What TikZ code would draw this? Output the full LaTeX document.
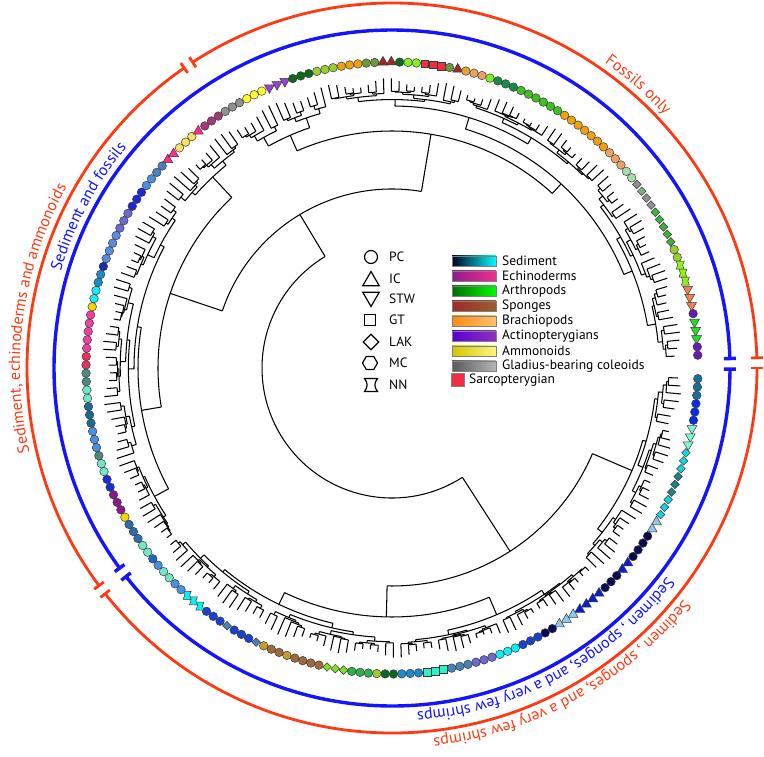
\documentclass[tikz,border=0pt]{standalone}
\usepackage{fontspec}
\setmainfont{PT Sans}
\usetikzlibrary{shapes.geometric,decorations.text}
\definecolor{redL}{HTML}{FF3A12}
\definecolor{blueL}{HTML}{1414FF}
\definecolor{mkline}{HTML}{3A3A3A}
\definecolor{dteal}{HTML}{1C6E96}
\definecolor{blueA}{HTML}{0B2BE8}
\definecolor{aquaT}{HTML}{7FF5D2}
\definecolor{cyanD}{HTML}{14D4DC}
\definecolor{tealD}{HTML}{1A8484}
\definecolor{ltblue}{HTML}{8CC8F0}
\definecolor{navy}{HTML}{0A0A50}
\definecolor{bluetri}{HTML}{0C20C8}
\definecolor{royal}{HTML}{1A40D0}
\definecolor{cyanC}{HTML}{10EEF8}
\definecolor{slate}{HTML}{6A6AD0}
\definecolor{steel}{HTML}{4A82B8}
\definecolor{aquasq}{HTML}{30F0C8}
\definecolor{cerul}{HTML}{1A8CC8}
\definecolor{dkgreen}{HTML}{0A6A1A}
\definecolor{yg}{HTML}{9ACD32}
\definecolor{greenM}{HTML}{2CB050}
\definecolor{limeD}{HTML}{7EE020}
\definecolor{brown}{HTML}{9C6A3C}
\definecolor{gold}{HTML}{C89A30}
\definecolor{cornfl}{HTML}{4A90E0}
\definecolor{paleaq}{HTML}{70E8C8}
\definecolor{blueTwo}{HTML}{1A6AC0}
\definecolor{steelTwo}{HTML}{2A70A8}
\definecolor{yellowA}{HTML}{F0D800}
\definecolor{purpleE}{HTML}{8A1A8A}
\definecolor{blueB}{HTML}{1A2AD8}
\definecolor{tealgray}{HTML}{4A8A80}
\definecolor{dsteel}{HTML}{1A6A90}
\definecolor{crimson}{HTML}{E8305A}
\definecolor{pinkA}{HTML}{F040A0}
\definecolor{dblue}{HTML}{1A2AB0}
\definecolor{cornflB}{HTML}{5A8AE0}
\definecolor{pinkT}{HTML}{FF2A8A}
\definecolor{yellowlt}{HTML}{F8E060}
\definecolor{magd}{HTML}{A03A78}
\definecolor{grayC}{HTML}{909090}
\definecolor{yellowB}{HTML}{FFFF30}
\definecolor{purpleT}{HTML}{9A40D0}
\definecolor{orangeA}{HTML}{F0A010}
\definecolor{oliveTwo}{HTML}{6A9A3A}
\definecolor{brownred}{HTML}{9A2A2A}
\definecolor{limeC}{HTML}{80F020}
\definecolor{redS}{HTML}{F03040}
\definecolor{orangeB}{HTML}{F0A030}
\definecolor{ltorange}{HTML}{F0A060}
\definecolor{tealgreen}{HTML}{1A8A4A}
\definecolor{greenTwo}{HTML}{40C020}
\definecolor{palegr}{HTML}{A8DCA8}
\definecolor{graygreen}{HTML}{80B080}
\definecolor{greenThree}{HTML}{40B040}
\definecolor{limeN}{HTML}{90F020}
\definecolor{salmon}{HTML}{F08050}
\definecolor{purpleC}{HTML}{6A1AB0}
\definecolor{greenFour}{HTML}{20E020}

\def\startA{-2}
\def\dA{1.56652}
\def\tipR{306}
\def\tipEnd{286}
\newcount\tipidx
\newcommand\outfont{\fontsize{16}{18}\selectfont}
\newcommand\lgfont{\fontsize{13.5}{15}\selectfont}

\newcommand\streeN[4]{%
 \begingroup
 \pgfmathsetmacro\sA{\startA-(#1+#2)/2*\dA}%
 \draw[treeline] (\sA:#3pt) -- (\sA:#4pt);
 \pgfmathtruncatemacro\sN{#2-#1+1}%
 \pgfmathsetmacro\sS{0.5+0.17*sin(#1*31+#2*17)}%
 \pgfmathtruncatemacro\sK{max(1,min(\sN-1,round(\sN*\sS)))}%
 \pgfmathtruncatemacro\sM{#1+\sK-1}%
 \pgfmathtruncatemacro\sMp{\sM+1}%
 \pgfmathsetmacro\sL{\startA-(#1+\sM)/2*\dA}%
 \pgfmathsetmacro\sR{\startA-(\sMp+#2)/2*\dA}%
 \draw[treeline] (\sL:#4pt) arc[start angle=\sL, end angle=\sR, radius=#4pt];
 \edef\sNext{\noexpand\stree{#1}{\sM}{#4}\noexpand\stree{\sMp}{#2}{#4}}%
 \sNext
 \endgroup}

\newcommand\stree[3]{%
 \ifnum#1=#2\relax
   \begingroup
   \pgfmathsetmacro\sA{\startA-#1*\dA}%
   \pgfmathsetmacro\sE{\tipEnd+4*sin(#1*47)}%
   \draw[treeline] (\sA:#3pt) -- (\sA:\sE pt);
   \endgroup
 \else
   \begingroup
   \pgfmathsetmacro\sF{0.28+0.12*sin(#1*13+#2*37)}%
   \pgfmathsetmacro\sRN{#3+(\tipEnd-6-#3)*\sF}%
   \edef\sNext{\noexpand\streeN{#1}{#2}{#3}{\sRN}}%
   \sNext
   \endgroup
 \fi}

\tikzset{
 treeline/.style={line width=1.05pt, black},
 mk/.style={draw=mkline, line width=0.5pt, inner sep=0pt, outer sep=0pt},
 mkc/.style={mk, circle, minimum size=8.6pt},
 mku/.style={mk, regular polygon, regular polygon sides=3, minimum size=11.5pt},
 mkd/.style={mk, regular polygon, regular polygon sides=3, shape border rotate=180, minimum size=11.5pt},
 mkD/.style={mk, diamond, minimum width=8.6pt, minimum height=8.6pt},
 mks/.style={mk, rectangle, minimum size=7.8pt},
 pics/nnmark/.style={code={\filldraw[fill=#1, draw=mkline, line width=0.5pt] (-4,4) -- (4,4) .. controls (2,1.5) and (2,-1.5) .. (4,-4) -- (-4,-4) .. controls (-2,-1.5) and (-2,1.5) .. (-4,4) -- cycle;}},
 redarc/.style={draw=redL, line width=2.8pt},
 bluearc/.style={draw=blueL, line width=3.4pt},
 lgs/.style={draw=black, line width=1.2pt, fill=white, inner sep=0pt},
 lgl/.style={anchor=west, inner sep=0pt, font=\lgfont},
 bar/.style={draw=gray, line width=0.8pt, minimum width=44pt, minimum height=10pt, inner sep=0pt},
}

\begin{document}
\begin{tikzpicture}[x=1pt,y=1pt]
\useasboundingbox (0,0) rectangle (764,756);
\begin{scope}[shift={(392,388)}]
 % ---- node angles (bottom-up) ----
 \pgfmathsetmacro\aBa{\startA-(0+27)/2*\dA}
 \pgfmathsetmacro\aBba{\startA-(28+55)/2*\dA}
 \pgfmathsetmacro\aBbb{\startA-(56+89)/2*\dA}
 \pgfmathsetmacro\aBb{(\aBba+\aBbb)/2}
 \pgfmathsetmacro\aB{(\aBa+\aBb)/2}
 \pgfmathsetmacro\aAaa{\startA-(138+149)/2*\dA}
 \pgfmathsetmacro\aAaba{\startA-(90+101)/2*\dA}
 \pgfmathsetmacro\aAabb{\startA-(102+137)/2*\dA}
 \pgfmathsetmacro\aAab{(\aAaba+\aAabb)/2}
 \pgfmathsetmacro\aAa{(\aAaa+\aAab)/2}
 \pgfmathsetmacro\aAba{\startA-(150+162)/2*\dA}
 \pgfmathsetmacro\aAbba{\startA-(163+201)/2*\dA}
 \pgfmathsetmacro\aAbbb{\startA-(202+227)/2*\dA}
 \pgfmathsetmacro\aAbb{(\aAbba+\aAbbb)/2}
 \pgfmathsetmacro\aAb{(\aAba+\aAbb)/2}
 \pgfmathsetmacro\aA{(\aAa+\aAb)/2}
 % ---- tree: deep nodes ----
 \draw[treeline] (\aB:130pt) arc[start angle=\aB, end angle=\aA, radius=130pt];
 \draw[treeline] (\aB:130pt) -- (\aB:218pt);
 \draw[treeline] (\aBa:218pt) arc[start angle=\aBa, end angle=\aBb, radius=218pt];
 \streeN{0}{27}{218}{261}
 \draw[treeline] (\aBb:218pt) -- (\aBb:249pt);
 \draw[treeline] (\aBba:249pt) arc[start angle=\aBba, end angle=\aBbb, radius=249pt];
 \streeN{28}{55}{249}{268}
 \streeN{56}{89}{249}{262}
 \draw[treeline] (\aA:130pt) -- (\aA:179pt);
 \draw[treeline] (\aAa:179pt) arc[start angle=\aAa, end angle=\aAb, radius=179pt];
 \draw[treeline] (\aAa:179pt) -- (\aAa:234pt);
 \draw[treeline] (\aAab:234pt) arc[start angle=\aAab, end angle=\aAaa, radius=234pt];
 \streeN{138}{149}{234}{262}
 \draw[treeline] (\aAab:234pt) -- (\aAab:254pt);
 \draw[treeline] (\aAaba:254pt) arc[start angle=\aAaba, end angle=\aAabb, radius=254pt];
 \streeN{90}{101}{254}{270}
 \streeN{102}{137}{254}{258}
 \draw[treeline] (\aAb:179pt) -- (\aAb:237pt);
 \draw[treeline] (\aAba:237pt) arc[start angle=\aAba, end angle=\aAbb, radius=237pt];
 \streeN{150}{162}{237}{254}
 \draw[treeline] (\aAbb:237pt) -- (\aAbb:250pt);
 \draw[treeline] (\aAbba:250pt) arc[start angle=\aAbba, end angle=\aAbbb, radius=250pt];
 \streeN{163}{201}{250}{262}
 \streeN{202}{227}{250}{259}
 % ---- tip markers ----
 \def\shN{N}
 \global\tipidx=0
 \foreach \n/\sh/\col in {3/c/dteal,3/c/blueA,3/d/aquaT,3/D/cyanD,3/D/tealD,3/D/cyanD,
 2/u/ltblue,4/c/navy,2/u/bluetri,3/c/navy,4/u/bluetri,3/u/ltblue,
 2/c/navy,3/c/royal,3/c/cyanC,3/c/slate,3/c/steel,3/s/aquasq,3/c/cerul,2/c/dkgreen,1/c/yg,3/c/greenM,3/D/limeD,
 4/c/brown,1/c/gold,2/c/brown,1/c/gold,
 1/D/steel,3/c/royal,1/D/steel,3/c/royal,3/N/cyanC,2/c/cornfl,2/c/paleaq,1/c/cornfl,1/c/blueTwo,
 2/c/paleaq,2/c/steelTwo,
 1/c/steelTwo,1/c/yellowA,3/c/purpleE,2/c/blueB,2/c/paleaq,1/c/tealgray,3/c/cornfl,3/c/dsteel,2/c/paleaq,2/c/tealgray,2/c/crimson,5/c/pinkA,1/c/yellowA,2/c/cyanC,2/c/cerul,1/c/dblue,4/c/cornflB,3/c/slate,1/c/blueB,
 2/c/blueB,2/c/cornfl,2/c/steel,
 2/u/pinkT,3/c/yellowlt,1/u/pinkT,3/c/magd,
 3/c/grayC,3/c/yellowB,3/d/purpleT,3/c/dkgreen,3/c/yg,3/c/orangeA,2/c/oliveTwo,2/u/brownred,1/c/dkgreen,2/c/limeC,3/s/redS,1/c/oliveTwo,1/u/brownred,1/c/orangeB,2/c/ltorange,1/c/limeC,3/c/tealgreen,6/c/greenTwo,3/c/orangeA,
 4/c/orangeA,3/c/ltorange,2/c/palegr,
 1/D/grayC,1/D/graygreen,2/D/grayC,5/D/greenThree,2/c/yg,3/N/limeN,3/d/salmon,1/c/purpleC,3/d/greenFour,2/c/purpleC}{%
  \foreach \k in {1,...,\n}{%
   \pgfmathsetmacro\mA{\startA-\the\tipidx*\dA}%
   \ifx\sh\shN
     \pic at (\mA:\tipR pt) {nnmark=\col};
   \else
     \edef\tmpnode{\noexpand\node[mk\sh, fill=\col] (t\the\tipidx) at (\mA:\tipR pt) {};}%
     \tmpnode
   \fi
   \global\advance\tipidx by 1
  }%
 }
 % ---- outer arcs ----
 \draw[bluearc] (1.6:338pt) arc[start angle=1.6, end angle=216.3, radius=338pt];
 \draw[bluearc] (218.1:338pt) arc[start angle=218.1, end angle=359.8, radius=338pt];
 \foreach \e in {1.6,216.3,218.1,359.8}{\draw[bluearc] (\e:332pt) -- (\e:344pt);}
 \draw[redarc] (1.6:365pt) arc[start angle=1.6, end angle=123.1, radius=365pt];
 \draw[redarc] (124.7:365pt) arc[start angle=124.7, end angle=216.6, radius=365pt];
 \draw[redarc] (218.2:365pt) arc[start angle=218.2, end angle=360, radius=365pt];
 \foreach \e in {1.6,123.1,124.7,216.6,218.2,360}{\draw[redarc] (\e:359pt) -- (\e:371pt);}
 % ---- arc labels ----
 \path[decorate, decoration={text along path, text align=center, text color=redL, text={|\outfont|Fossils only}}] (89:372pt) arc[start angle=89, end angle=9, radius=372pt];
 \path[decorate, decoration={text along path, text align=center, text color=redL, text={|\outfont|Sediment, echinoderms and ammonoids}}] (212:372pt) arc[start angle=212, end angle=132, radius=372pt];
 \path[decorate, decoration={text along path, text align=center, text color=redL, text={|\outfont|Sedimen , sponges, and a very few shrimps}}] (-16:372pt) arc[start angle=-16, end angle=-106, radius=372pt];
 \path[decorate, decoration={text along path, text align=center, text color=blueL, text={|\outfont|Sediment and fossils}}] (182:345pt) arc[start angle=182, end angle=122, radius=345pt];
 \path[decorate, decoration={text along path, text align=center, text color=blueL, text={|\outfont|Sedimen , sponges, and a very few shrimps}}] (-16:345pt) arc[start angle=-16, end angle=-107, radius=345pt];
\end{scope}
% ---- legend: shapes ----
\node[lgs, circle, minimum size=13pt] (lpc) at (371,499) {};
\node[lgs, regular polygon, regular polygon sides=3, minimum size=19pt] (lic) at (371,475) {};
\node[lgs, regular polygon, regular polygon sides=3, shape border rotate=180, minimum size=19pt] (lstw) at (371,459) {};
\node[lgs, rectangle, minimum size=11pt] (lgt) at (370,436) {};
\node[lgs, diamond, minimum width=16pt, minimum height=16pt] (llak) at (371,414) {};
\node[lgs, regular polygon, regular polygon sides=6, minimum size=15pt] (lmc) at (370,393) {};
\filldraw[fill=white, draw=black, line width=1.2pt] (364.5,377.5) -- (377.5,377.5) .. controls (374,373) and (374,369) .. (377.5,364.5) -- (364.5,364.5) .. controls (368,369) and (368,373) .. (364.5,377.5) -- cycle;
\node[lgl] (tpc) at (389,499) {PC};
\node[lgl] (tic) at (389,477) {IC};
\node[lgl] (tstw) at (389,457) {STW};
\node[lgl] (tgt) at (389,436) {GT};
\node[lgl] (tlak) at (389,414) {LAK};
\node[lgl] (tmc) at (389,393) {MC};
\node[lgl] (tnn) at (389,371) {NN};
% ---- legend: colour bars ----
\node[bar, left color=black!85!blue, right color=cyan] (b1) at (474,495) {};
\node[bar, left color={rgb,255:red,142;green,26;blue,142}, right color={rgb,255:red,240;green,50;blue,140}] (b2) at (474,480) {};
\node[bar, left color={rgb,255:red,0;green,110;blue,0}, right color={rgb,255:red,0;green,255;blue,0}] (b3) at (474,465) {};
\node[bar, left color={rgb,255:red,160;green,40;blue,42}, right color={rgb,255:red,154;green,96;blue,48}] (b4) at (474,450) {};
\node[bar, left color={rgb,255:red,255;green,140;blue,16}, right color={rgb,255:red,255;green,192;blue,112}] (b5) at (474,435) {};
\node[bar, left color={rgb,255:red,90;green,0;blue,208}, right color={rgb,255:red,144;green,48;blue,192}] (b6) at (474,420) {};
\node[bar, left color={rgb,255:red,212;green,196;blue,0}, right color={rgb,255:red,255;green,246;blue,128}] (b7) at (474,405) {};
\node[bar, left color={rgb,255:red,90;green,90;blue,90}, right color={rgb,255:red,180;green,180;blue,180}] (b8) at (474,390) {};
\node[draw=gray, line width=0.8pt, fill=redS, minimum size=12.5pt, inner sep=0pt] (b9) at (458,376) {};
\node[lgl] (l1) at (502,495) {Sediment};
\node[lgl] (l2) at (502,480) {Echinoderms};
\node[lgl] (l3) at (502,465) {Arthropods};
\node[lgl] (l4) at (502,450) {Sponges};
\node[lgl] (l5) at (502,435) {Brachiopods};
\node[lgl] (l6) at (502,420) {Actinopterygians};
\node[lgl] (l7) at (502,405) {Ammonoids};
\node[lgl] (l8) at (502,390) {Gladius-bearing coleoids};
\node[lgl] (l9) at (469,376) {Sarcopterygian};
\end{tikzpicture}
\end{document}
